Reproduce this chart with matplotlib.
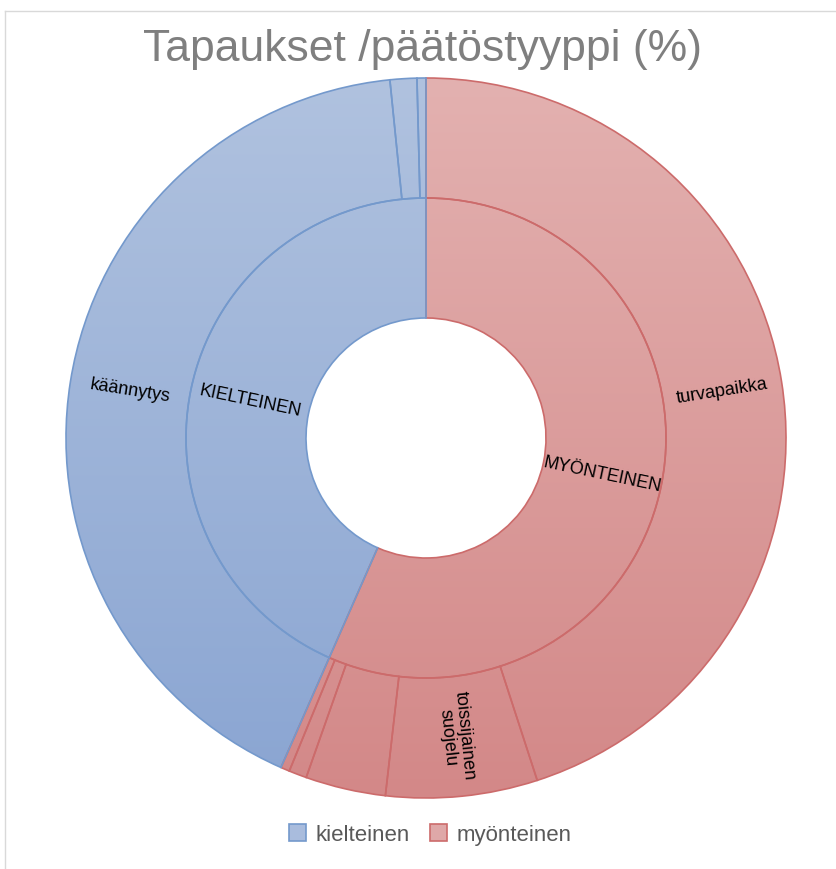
import numpy as np
import matplotlib
matplotlib.use("Agg")
import matplotlib.pyplot as plt
from matplotlib.patches import Patch
from matplotlib.lines import Line2D
from matplotlib.colors import to_rgb

plt.rcParams['font.family'] = ['Liberation Sans', 'DejaVu Sans']

# ---- data (percent) ----
title = "Tapaukset /päätöstyyppi (%)"
inner_labels = ["MYÖNTEINEN", "KIELTEINEN"]
inner_values = [56.6, 43.4]
inner_groups = ["myönteinen", "kielteinen"]

outer_labels = ["turvapaikka", "toissijainen\nsuojelu", "", "", "",
                "käännytys", "", ""]
outer_values = [45.0, 6.8, 3.6, 0.8, 0.4, 41.8, 1.2, 0.4]
outer_groups = ["myönteinen"] * 5 + ["kielteinen"] * 3

legend_labels = ["kielteinen", "myönteinen"]

# ---- styles ----
grad = {
    "kielteinen": ("#B0C2DF", "#8AA5D2"),
    "myönteinen": ("#E3B1B0", "#D38888"),
}
edge = {"kielteinen": "#7499CC", "myönteinen": "#CC6B6B"}
legend_face = {"kielteinen": "#A9BCDD", "myönteinen": "#DFA8A8"}

W, H = 837, 869
fig = plt.figure(figsize=(W / 100, H / 100), dpi=100)

cx, cy, R = 426, 438, 360
ax = fig.add_axes([(cx - R) / W, (H - cy - R) / H, 2 * R / W, 2 * R / H])
ax.set_aspect('equal')
ax.axis('off')

wp = dict(width=1 / 3, linewidth=1.2)
outer_w, _ = ax.pie(outer_values, radius=1.0, startangle=90, counterclock=False,
                    wedgeprops=wp)
inner_w, _ = ax.pie(inner_values, radius=2 / 3, startangle=90, counterclock=False,
                    wedgeprops=wp)


def gradient_img(c_top, c_bot):
    t = np.linspace(0, 1, 256)[:, None]
    a = np.array(to_rgb(c_top))
    b = np.array(to_rgb(c_bot))
    img = a[None, None, :] * (1 - t[..., None]) + b[None, None, :] * t[..., None]
    return np.repeat(img, 2, axis=1)


for wedges, groups in ((outer_w, outer_groups), (inner_w, inner_groups)):
    for w, g in zip(wedges, groups):
        w.set_facecolor('none')
        w.set_edgecolor(edge[g])
        w.set_zorder(3)
        im = ax.imshow(gradient_img(*grad[g]), extent=(-1, 1, -1, 1),
                       origin='upper', aspect='auto', zorder=1,
                       interpolation='bilinear')
        im.set_clip_path(w)

ax.set_xlim(-1, 1)
ax.set_ylim(-1, 1)


def put_label(w, text, r):
    if not text:
        return
    mid = np.deg2rad((w.theta1 + w.theta2) / 2)
    x, y = r * np.cos(mid), r * np.sin(mid)
    rot = np.rad2deg(mid)
    while rot > 90:
        rot -= 180
    while rot < -90:
        rot += 180
    ax.text(x, y, text, rotation=rot, rotation_mode='anchor', ha='center',
            va='center', fontsize=13, color='black', zorder=5,
            linespacing=1.0)


for w, t in zip(outer_w, outer_labels):
    put_label(w, t, 5 / 6)
for w, t in zip(inner_w, inner_labels):
    put_label(w, t, 0.5)

fig.text(423 / W, 1 - 50 / H, title, ha='center', va='center',
         fontsize=32, color='#7F7F7F')

handles = [Patch(facecolor=legend_face[g], edgecolor=edge[g], linewidth=1.2)
           for g in legend_labels]
fig.legend(handles, legend_labels, loc='center',
           bbox_to_anchor=(430 / W, 1 - 835 / H), ncol=2, frameon=False,
           fontsize=16, labelcolor='#595959', handlelength=0.8,
           handleheight=0.8, handletextpad=0.4, columnspacing=0.9)

fig.add_artist(Line2D([5.5 / W, 5.5 / W], [0, 1 - 10.5 / H],
                      transform=fig.transFigure, color='#D9D9D9', lw=1))
fig.add_artist(Line2D([5.5 / W, 1], [1 - 10.5 / H, 1 - 10.5 / H],
                      transform=fig.transFigure, color='#D9D9D9', lw=1))

fig.savefig("out.png", dpi=100, facecolor='white')
